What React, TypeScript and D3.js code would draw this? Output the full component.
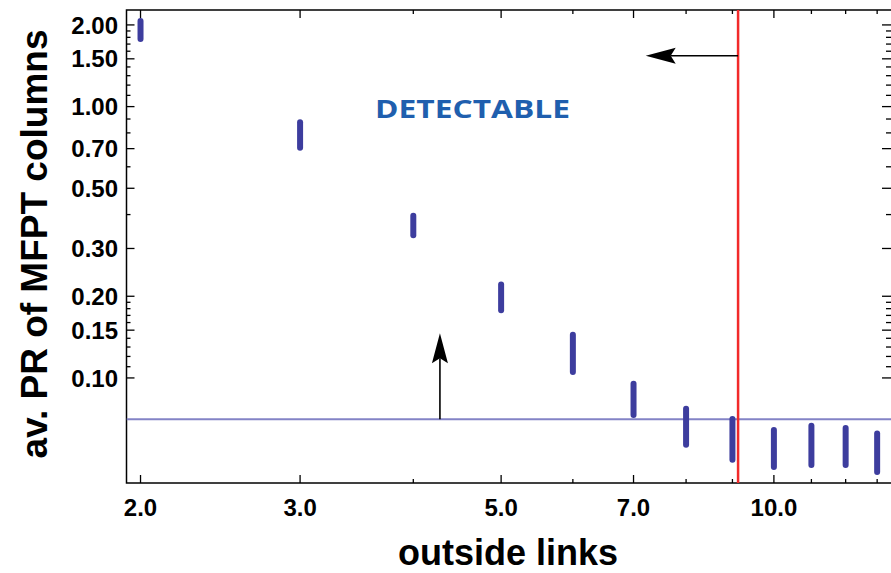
import React from "react";
import * as d3 from "d3";

const xValues = [2, 3, 4, 5, 6, 7, 8, 9, 10, 11, 12, 13];
const highValues = [2.12, 0.899, 0.406, 0.2265, 0.148, 0.0977, 0.079, 0.0724, 0.066, 0.0683, 0.0671, 0.064];
const lowValues = [1.732, 0.688, 0.327, 0.173, 0.1026, 0.0712, 0.0553, 0.0487, 0.0458, 0.0466, 0.0466, 0.0439];

const xMajorTicks = [2, 3, 5, 7, 10];
const xMinorTicks = [4, 6, 8, 9, 11, 12, 13];
const yMajorTicks = [0.1, 0.15, 0.2, 0.3, 0.5, 0.7, 1, 1.5, 2];
const yMinorTicks = [0.11, 0.12, 0.13, 0.14, 0.16, 0.17, 0.18, 0.19, 0.4, 0.6, 0.8, 0.9, 1.1, 1.2, 1.3, 1.4, 1.6, 1.7, 1.8, 1.9];

const threshold = 0.0705;
const cutoffX = 9.13;
const leftArrow = { x1: 9.13, x2: 7.22, y: 1.54 };
const upArrow = { x: 4.28, y1: 0.0705, y2: 0.146 };
const annotation = "DETECTABLE";
const xTitle = "outside links";
const yTitle = "av. PR of MFPT columns";

const W = 891;
const H = 573;
const L = 126.5, R = 892, T = 10, B = 483;

const x = d3.scaleLog().domain([1.93, 13.5]).range([L, R]);
const y = d3.scaleLog().domain([0.041, 2.27]).range([B, T]);

const font = "'Liberation Sans', Arial, sans-serif";

function arrowHead(tx: number, ty: number, dx: number, dy: number) {
  const len = 30, hw = 8, notch = 5;
  const px = -dy, py = dx;
  const bx = tx - dx * len, by = ty - dy * len;
  const nx = tx - dx * (len - notch), ny = ty - dy * (len - notch);
  return `M${tx},${ty} L${bx + px * hw},${by + py * hw} L${nx},${ny} L${bx - px * hw},${by - py * hw} Z`;
}

export default function App() {
  const ax1 = x(leftArrow.x1), ax2 = x(leftArrow.x2), ay = y(leftArrow.y);
  const ux = x(upArrow.x), uy1 = y(upArrow.y1), uy2 = y(upArrow.y2);
  return (
    <svg width={W} height={H} style={{ position: "absolute", left: 0, top: 0, background: "#fff" }}>
      <defs>
        <clipPath id="plot">
          <rect x={L} y={T} width={R - L} height={B - T} />
        </clipPath>
      </defs>
      <rect x={L} y={T} width={R - L} height={B - T} fill="none" stroke="#000" strokeWidth={1.5} />
      {xMajorTicks.map((t) => (
        <g key={"xM" + t}>
          <line x1={x(t)} x2={x(t)} y1={B} y2={B - 8} stroke="#000" strokeWidth={1.3} />
          <line x1={x(t)} x2={x(t)} y1={T} y2={T + 8} stroke="#000" strokeWidth={1.3} />
          <text x={x(t)} y={516} textAnchor="middle" fontFamily={font} fontWeight="bold" fontSize={24} fill="#000">
            {t.toFixed(1)}
          </text>
        </g>
      ))}
      {xMinorTicks.map((t) => (
        <g key={"xm" + t}>
          <line x1={x(t)} x2={x(t)} y1={B} y2={B - 4} stroke="#000" strokeWidth={1.3} />
          <line x1={x(t)} x2={x(t)} y1={T} y2={T + 4} stroke="#000" strokeWidth={1.3} />
        </g>
      ))}
      {yMajorTicks.map((t) => (
        <g key={"yM" + t}>
          <line x1={L} x2={L + 8} y1={y(t)} y2={y(t)} stroke="#000" strokeWidth={1.3} />
          <line x1={R - 10} x2={R} y1={y(t)} y2={y(t)} stroke="#000" strokeWidth={1.3} />
          <text x={118} y={y(t)} dy="0.36em" textAnchor="end" fontFamily={font} fontWeight="bold" fontSize={24} fill="#000">
            {t.toFixed(2)}
          </text>
        </g>
      ))}
      {yMinorTicks.map((t) => (
        <g key={"ym" + t}>
          <line x1={L} x2={L + 4} y1={y(t)} y2={y(t)} stroke="#000" strokeWidth={1.3} />
          <line x1={R - 6} x2={R} y1={y(t)} y2={y(t)} stroke="#000" strokeWidth={1.3} />
        </g>
      ))}
      <g clipPath="url(#plot)">
        <line x1={L} x2={R} y1={y(threshold)} y2={y(threshold)} stroke="#8383c6" strokeWidth={2} />
        {xValues.map((xv, i) => (
          <rect
            key={"d" + xv}
            x={x(xv) - 3}
            width={6}
            y={y(highValues[i])}
            height={y(lowValues[i]) - y(highValues[i])}
            rx={3}
            fill="#3d3d9e"
          />
        ))}
        <line x1={x(cutoffX)} x2={x(cutoffX)} y1={T} y2={B} stroke="#f22a2a" strokeWidth={2.5} />
      </g>
      <line x1={ax1} x2={ax2 + 25} y1={ay} y2={ay} stroke="#000" strokeWidth={1.6} />
      <path d={arrowHead(ax2, ay, -1, 0)} fill="#000" />
      <line x1={ux} x2={ux} y1={uy1} y2={uy2 + 25} stroke="#000" strokeWidth={1.6} />
      <path d={arrowHead(ux, uy2, 0, -1)} fill="#000" />
      <text x={472.5} y={118} textAnchor="middle" fontFamily="'Open Sans', 'DejaVu Sans', sans-serif" fontWeight="bold" fontSize={25} fill="#1f5fae" textLength={195} lengthAdjust="spacingAndGlyphs">
        {annotation}
      </text>
      <text x={508} y={565} textAnchor="middle" fontFamily={font} fontWeight="bold" fontSize={36} fill="#000">
        {xTitle}
      </text>
      <text transform={`translate(47,244) rotate(-90)`} textAnchor="middle" fontFamily={font} fontWeight="bold" fontSize={37} fill="#000">
        {yTitle}
      </text>
    </svg>
  );
}
